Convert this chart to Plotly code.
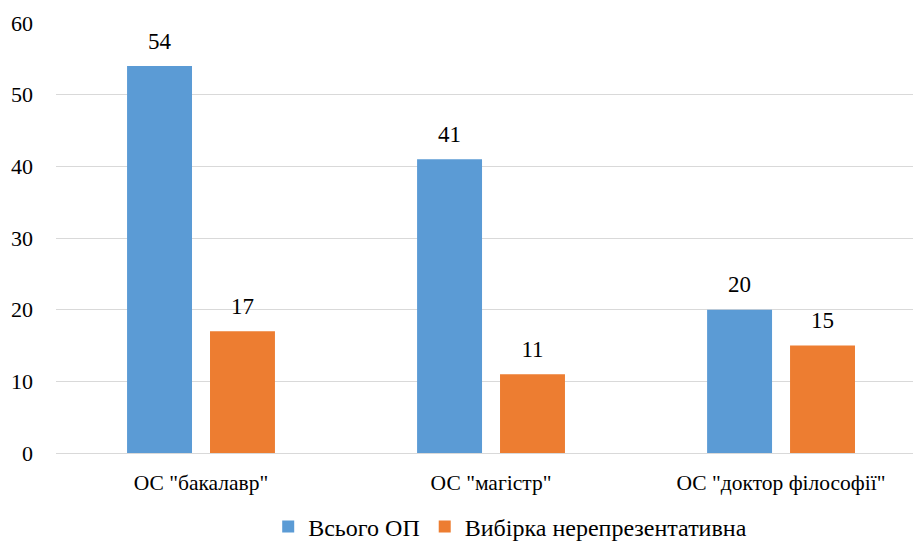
import plotly.graph_objects as go

categories = ['ОС "бакалавр"', 'ОС "магістр"', 'ОС "доктор філософії"']
series_names = ["Всього ОП", "Вибірка нерепрезентативна"]
total_op = [54, 41, 20]
sample_nonrep = [17, 11, 15]
y_ticks = [0, 10, 20, 30, 40, 50, 60]

colors = ["#5B9BD5", "#ED7D31"]
font_family = "Liberation Serif"

fig = go.Figure()
for name, vals, col, grp in zip(series_names, [total_op, sample_nonrep], colors, ["a", "b"]):
    fig.add_trace(go.Bar(
        x=categories, y=vals, name=name, marker=dict(color=col, line=dict(width=0)),
        offsetgroup=grp, alignmentgroup="g",
    ))
for name, vals, grp in zip(series_names, [total_op, sample_nonrep], ["a", "b"]):
    fig.add_trace(go.Scatter(
        x=categories, y=vals, mode="markers+text", text=[str(v) for v in vals],
        textposition="top center", textfont=dict(size=23, color="#000000", family=font_family),
        marker=dict(size=17, opacity=0), offsetgroup=grp, alignmentgroup="g",
        showlegend=False, hoverinfo="skip", cliponaxis=False,
    ))

fig.update_layout(
    width=913, height=544,
    margin=dict(l=56, r=0, t=23, b=91, autoexpand=False),
    paper_bgcolor="white", plot_bgcolor="white",
    barmode="group", scattermode="group",
    bargap=0.428, bargroupgap=0.217,
    font=dict(family=font_family, size=21.5, color="#000000"),
    showlegend=True,
    legend=dict(orientation="h", x=0.53, xanchor="center", y=-0.172, yanchor="middle",
                font=dict(size=24, family=font_family), traceorder="normal",
                bgcolor="rgba(0,0,0,0)"),
)
fig.update_xaxes(range=[-0.5, 2.455], showgrid=False, showline=False, ticks="",
                 automargin=False,
                 tickfont=dict(size=21.5, family=font_family), ticklabelstandoff=14)
fig.update_yaxes(range=[0, 60], tickvals=y_ticks, showgrid=True, gridcolor="#d9d9d9",
                 gridwidth=1, zeroline=True, zerolinecolor="#d9d9d9", zerolinewidth=1,
                 showline=False, ticks="", automargin=False,
                 tickfont=dict(size=22, family=font_family),
                 ticklabelstandoff=22)

fig.write_html("out.html", config={"displayModeBar": False},
               post_script="document.body.style.margin='0px';document.body.style.padding='0px';")
